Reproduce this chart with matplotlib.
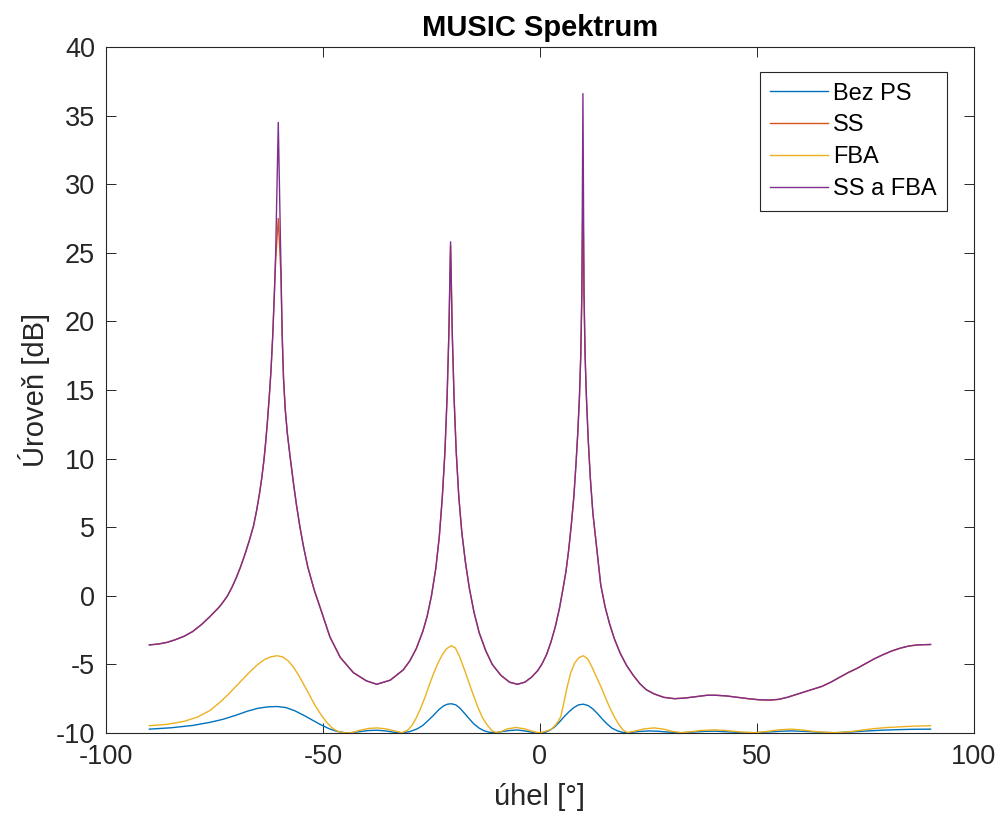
"""
MUSIC spektrum - porovnani metod (bez PS, SS, FBA, SS a FBA).
"""

import matplotlib.pyplot as plt

# SS a SS a FBA sdileji stejnou osu uhlu (krivky se krome spicek prekryvaji)
uhel_ss = [
    -90, -88, -86, -84, -82, -80, -78, -76, -74, -73, -72, -71, -70, -69, -68,
    -67, -66, -65.3, -64.6, -64.1, -63.6, -63.2, -62.8, -62.4, -62.0, -61.6,
    -61.2, -60.9, -60.3, -59.7, -59.4, -59.1, -58.7, -58.2, -57.6, -56.8,
    -56.1, -55.3, -54.5, -53.5, -52, -50.5, -48.4, -46, -43, -40, -37.6,
    -34.5, -31.5, -30, -28.5, -27, -26, -25, -24, -23.2, -22.5, -21.9, -21.4,
    -21.0, -20.6, -20.2, -19.8, -19.3, -18.7, -18, -17.2, -16.3, -15.2, -14,
    -12.5, -11, -9, -7, -5.2, -3.5, -2, -0.5, 0.5, 1.5, 2.5, 3.5, 4.5, 5.3,
    6.0, 6.6, 7.2, 7.8, 8.3, 8.7, 9.1, 9.4, 9.65, 9.9, 10.15, 10.4, 10.7,
    11.1, 11.6, 12.2, 13, 14, 15, 16, 17.1, 18.5, 20, 21.5, 23, 24.5, 26.3,
    28.5, 31, 33.5, 36, 38.5, 40.5, 43, 45.5, 48, 50.5, 53, 55, 57, 59, 61,
    63, 65, 67, 69, 71, 73, 75, 77, 79, 81, 83, 85, 87, 90,
]

ss_fba_db = [
    -3.58, -3.52, -3.4, -3.2, -2.95, -2.6, -2.1, -1.5, -0.85, -0.45, 0.0,
    0.6, 1.3, 2.1, 3.0, 4.0, 5.1, 6.2, 7.5, 8.6, 9.9, 11.2, 12.7, 14.4,
    16.3, 18.8, 22.0, 25.0, 34.5, 24.0, 19.0, 15.9, 13.6, 11.8, 10.2, 8.2,
    6.6, 5.0, 3.6, 2.1, 0.4, -1.0, -3.0, -4.5, -5.6, -6.2, -6.45,
    -6.15, -5.4, -4.75, -3.85, -2.6, -1.5, 0.0, 2.0, 4.3, 7.2, 10.5, 14.5,
    19.0, 25.8, 19.0, 14.5, 10.5, 7.2, 4.6, 2.5, 0.6, -1.2, -2.7,
    -4.0, -5.0, -5.8, -6.3, -6.45, -6.3, -5.95, -5.45, -4.95, -4.3, -3.4, -2.3, -0.9, 0.5,
    1.8, 3.3, 5.1, 7.2, 9.6, 11.8, 14.5, 17.5, 22.0, 36.6, 22.0, 17.5, 14.5,
    11.5, 8.6, 6.0, 3.7, 0.8, -0.8, -2.0, -3.1, -4.2, -5.1, -5.8, -6.4, -6.85, -7.15,
    -7.4, -7.5, -7.45, -7.35, -7.25, -7.25, -7.3, -7.4, -7.5, -7.58, -7.6, -7.55, -7.4, -7.2, -7.0,
    -6.8, -6.6, -6.3, -5.95, -5.6, -5.3, -4.95, -4.6, -4.3, -4.03, -3.82, -3.66, -3.58, -3.55,
]

ss_db = [
    -3.58, -3.52, -3.4, -3.2, -2.95, -2.6, -2.1, -1.5, -0.85, -0.45, 0.0,
    0.6, 1.3, 2.1, 3.0, 4.0, 5.1, 6.2, 7.5, 8.6, 9.9, 11.2, 12.7, 14.4,
    16.3, 18.8, 22.0, 24.5, 27.5, 23.5, 19.0, 15.9, 13.6, 11.8, 10.2, 8.2,
    6.6, 5.0, 3.6, 2.1, 0.4, -1.0, -3.0, -4.5, -5.6, -6.2, -6.45,
    -6.15, -5.4, -4.75, -3.85, -2.6, -1.5, 0.0, 2.0, 4.3, 7.2, 10.5, 14.5,
    19.0, 25.5, 19.0, 14.5, 10.5, 7.2, 4.6, 2.5, 0.6, -1.2, -2.7,
    -4.0, -5.0, -5.8, -6.3, -6.45, -6.3, -5.95, -5.45, -4.95, -4.3, -3.4, -2.3, -0.9, 0.5,
    1.8, 3.3, 5.1, 7.2, 9.6, 11.8, 14.5, 17.5, 22.0, 29.7, 22.0, 17.5, 14.5,
    11.5, 8.6, 6.0, 3.7, 0.8, -0.8, -2.0, -3.1, -4.2, -5.1, -5.8, -6.4, -6.85, -7.15,
    -7.4, -7.5, -7.45, -7.35, -7.25, -7.25, -7.3, -7.4, -7.5, -7.58, -7.6, -7.55, -7.4, -7.2, -7.0,
    -6.8, -6.6, -6.3, -5.95, -5.6, -5.3, -4.95, -4.6, -4.3, -4.03, -3.82, -3.66, -3.58, -3.55,
]

uhel_fba = [
    -90, -86, -82, -79, -76, -73.5, -71.4, -69, -67, -65.2, -63.5, -62, -60.6,
    -59.3, -58, -56.8, -55.5, -54.2, -53, -51.8, -50.5, -49.2, -48, -46.8,
    -45.5, -44.4, -43, -41.5, -39.5, -37.5, -35.5, -33.5, -31.8, -30.5, -29.5,
    -28.5, -27.5, -26.5, -25.5, -24.5, -23.5, -22.5, -21.5, -20.4, -19.5,
    -18.5, -17.5, -16.5, -15.5, -14.4, -13.3, -12.2, -11, -10, -9, -7.5, -5.5,
    -3.5, -2, -0.5, 0.5, 1.5, 2.5, 3.5, 4.3, 4.8, 5.5, 6.3, 7.1, 8, 9, 10, 11,
    12, 13, 14, 15, 16, 17.1, 18.2, 19.2, 20.2, 22, 24, 26.3, 28.5, 30.5, 32.5,
    34.5, 37, 40.2, 43, 46, 49.4, 52, 55, 57.9, 61, 64, 67.9, 71, 74, 77, 80,
    83, 86, 90,
]

fba_db = [
    -9.47, -9.37, -9.15, -8.85, -8.35, -7.7, -7.05, -6.25, -5.6, -5.05, -4.65, -4.45, -4.37,
    -4.45, -4.75, -5.2, -5.85, -6.6, -7.3, -8.0, -8.65, -9.2, -9.6, -9.85,
    -9.97, -10.0, -9.95, -9.8, -9.67, -9.63, -9.7, -9.85, -9.98, -9.8, -9.45,
    -8.9, -8.2, -7.4, -6.5, -5.65, -4.9, -4.3, -3.85, -3.64, -3.8,
    -4.45, -5.3, -6.2, -7.1, -8.05, -8.85, -9.4, -9.85, -9.97, -9.9, -9.7, -9.6,
    -9.7, -9.85, -9.98, -9.95, -9.85, -9.75, -9.45, -9.1, -8.8, -7.8, -6.6, -5.6, -4.9, -4.5, -4.37, -4.6,
    -5.2, -5.9, -6.6, -7.35, -8.1, -8.8, -9.4, -9.8, -9.97, -9.85, -9.7, -9.63, -9.72, -9.88, -9.98,
    -9.92, -9.82, -9.77, -9.82, -9.92, -9.98, -9.9, -9.77, -9.72, -9.8, -9.92, -9.98, -9.92, -9.8, -9.68, -9.6,
    -9.55, -9.5, -9.47,
]

uhel_bez_ps = [
    -90, -85, -80, -76, -73, -70, -67.5, -65, -62.8, -60.6, -58.5, -56.5,
    -54.5, -52.5, -50.5, -48.5, -46.8, -45, -43.5, -41.5, -39.5, -37.5, -35.5,
    -33.5, -31.8, -30, -28.3, -27, -25.8, -24.5, -23.3, -22.2, -21.3, -20.4,
    -19.4, -18.4, -17.3, -16.2, -15.2, -14, -12.8, -11.6, -10.3, -8.8, -7,
    -5.2, -3.5, -1.8, 0, 1.2, 2.3, 3.4, 4.5, 5.6, 6.7, 7.8, 8.9, 10, 11.1,
    12.2, 13.3, 14.4, 15.5, 16.6, 17.9, 19.2, 20.5, 22.5, 25, 27, 29.5, 32.5,
    35.5, 38, 40.5, 43.5, 46.5, 49.4, 52.5, 55.5, 57.9, 61, 64.5, 67.9, 71.5,
    75, 78.5, 82, 86, 90,
]

bez_ps_db = [
    -9.72, -9.62, -9.45, -9.22, -9.0, -8.7, -8.42, -8.2, -8.1, -8.07, -8.15, -8.38,
    -8.7, -9.05, -9.4, -9.7, -9.88, -9.98, -9.98, -9.9, -9.82, -9.8, -9.85,
    -9.95, -9.99, -9.9, -9.7, -9.45, -9.1, -8.7, -8.3, -8.02, -7.9, -7.87,
    -7.95, -8.2, -8.6, -9.0, -9.35, -9.65, -9.85, -9.95, -9.98, -9.9, -9.82,
    -9.78, -9.85, -9.95, -10.0, -9.95, -9.8, -9.55, -9.2, -8.8, -8.45, -8.15, -7.95, -7.9, -8.0,
    -8.25, -8.6, -9.0, -9.35, -9.65, -9.85, -9.97, -9.98, -9.9, -9.85, -9.87, -9.93, -9.98,
    -9.93, -9.88, -9.87, -9.92, -9.97, -9.98, -9.93, -9.87, -9.85, -9.88, -9.95, -9.98, -9.93,
    -9.86, -9.8, -9.76, -9.73, -9.72,
]

x_ticks = [-100, -50, 0, 50, 100]
y_ticks = [-10, -5, 0, 5, 10, 15, 20, 25, 30, 35, 40]

MATLAB_COLORS = ["#0072BD", "#D95319", "#EDB120", "#7E2F8E"]
AXIS_COLOR = "#262626"

plt.rcParams["font.family"] = ["Liberation Sans", "DejaVu Sans"]
plt.rcParams["axes.unicode_minus"] = False

fig = plt.figure(figsize=(9.98, 8.21), dpi=100)
ax = fig.add_axes([0.1062, 0.1072, 0.8697, 0.8356])

ax.plot(uhel_bez_ps, bez_ps_db, color=MATLAB_COLORS[0], linewidth=1.0, label="Bez PS")
ax.plot(uhel_ss, ss_db, color=MATLAB_COLORS[1], linewidth=1.0, label="SS")
ax.plot(uhel_fba, fba_db, color=MATLAB_COLORS[2], linewidth=1.0, label="FBA")
ax.plot(uhel_ss, ss_fba_db, color=MATLAB_COLORS[3], linewidth=1.0, label="SS a FBA")

ax.set_xlim(-100, 100)
ax.set_ylim(-10, 40)
ax.set_xticks(x_ticks)
ax.set_yticks(y_ticks)

ax.tick_params(
    direction="in",
    length=7,
    width=0.7,
    top=True,
    right=True,
    labelsize=19.5,
    colors=AXIS_COLOR,
    pad=8,
)
for spine in ax.spines.values():
    spine.set_color(AXIS_COLOR)
    spine.set_linewidth(0.8)

ax.set_title("MUSIC Spektrum", fontsize=21, fontweight="bold", color="black", pad=8)
ax.set_xlabel("úhel [°]", fontsize=21, color=AXIS_COLOR, labelpad=9)
ax.set_ylabel("Úroveň [dB]", fontsize=21, color=AXIS_COLOR, labelpad=4)

legend = ax.legend(
    loc="upper right",
    bbox_to_anchor=(0.969, 0.9636),
    borderaxespad=0,
    fontsize=17,
    handlelength=2.45,
    handletextpad=0.2,
    labelspacing=0.42,
    borderpad=0.45,
    fancybox=False,
    framealpha=1,
    edgecolor=AXIS_COLOR,
)
legend.get_frame().set_linewidth(0.8)

fig.savefig("out.png", dpi=100)
plt.close(fig)
